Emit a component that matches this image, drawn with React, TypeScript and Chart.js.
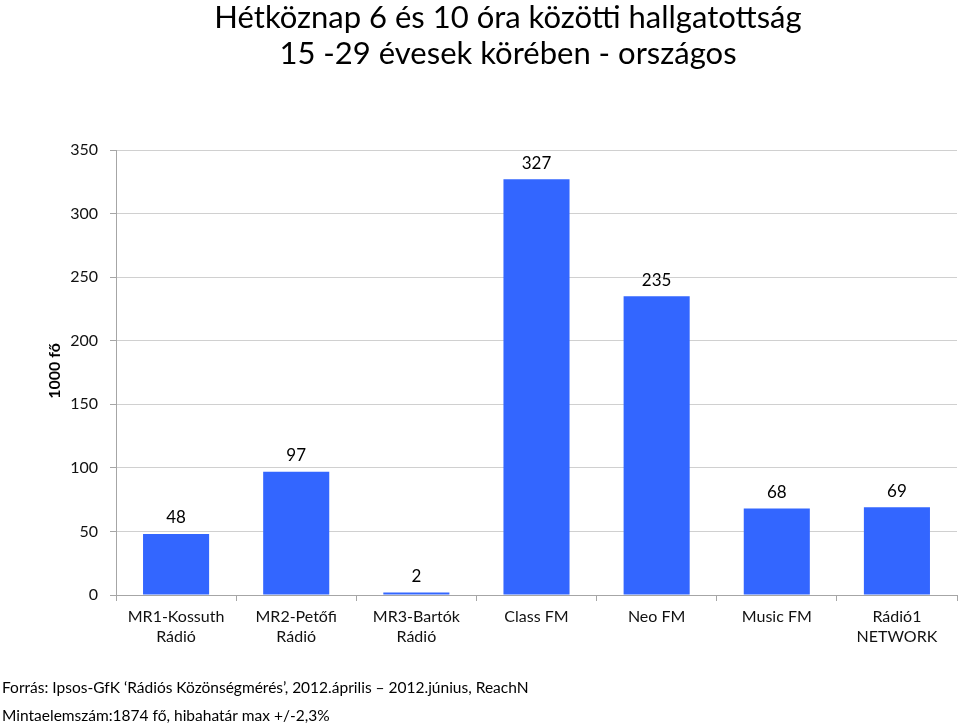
import React, { useEffect, useRef } from "react";
import { Chart, registerables } from "chart.js";

Chart.register(...registerables);

const titleLines = ["Hétköznap 6 és 10 óra közötti hallgatottság", "15 -29 évesek körében - országos"];
const categories: string[][] = [
  ["MR1-Kossuth", "Rádió"],
  ["MR2-Petőfi", "Rádió"],
  ["MR3-Bartók", "Rádió"],
  ["Class FM"],
  ["Neo FM"],
  ["Music FM"],
  ["Rádió1", "NETWORK"],
];
const values = [48, 97, 2, 327, 235, 68, 69];
const yAxisTitle = "1000 fő";
const yMin = 0;
const yMax = 350;
const yStep = 50;
const footnotes = [
  "Forrás: Ipsos-GfK ‘Rádiós Közönségmérés’, 2012.április – 2012.június, ReachN",
  "Mintaelemszám:1874 fő, hibahatár max +/-2,3%",
];

const FONT = "Lato, 'Open Sans', sans-serif";
const BAR_COLOR = "#3366ff";

const decorPlugin = {
  id: "decor",
  afterDatasetsDraw(chart: any) {
    const ctx = chart.ctx;
    ctx.save();
    ctx.fillStyle = "#000";
    // value labels
    ctx.font = `17px ${FONT}`;
    ctx.textAlign = "center";
    ctx.textBaseline = "middle";
    const meta = chart.getDatasetMeta(0);
    meta.data.forEach((bar: any, i: number) => {
      ctx.fillText(String(values[i]), bar.x, bar.y - 16);
    });
    // title
    ctx.font = `31px ${FONT}`;
    ctx.fillText(titleLines[0], 508, 18);
    ctx.fillText(titleLines[1], 508, 54);
    // y axis title
    ctx.save();
    ctx.translate(55, 371);
    ctx.rotate(-Math.PI / 2);
    ctx.font = `bold 16px ${FONT}`;
    ctx.fillText(yAxisTitle, 0, 0);
    ctx.restore();
    // footnotes
    ctx.textAlign = "left";
    ctx.font = `15.5px ${FONT}`;
    ctx.fillText(footnotes[0], 2, 688);
    ctx.fillText(footnotes[1], 2, 716);
    ctx.restore();
  },
};

export default function App() {
  const ref = useRef<HTMLCanvasElement | null>(null);
  useEffect(() => {
    if (!ref.current) return;
    const chart = new Chart(ref.current, {
      type: "bar",
      data: {
        labels: categories,
        datasets: [
          {
            data: values,
            backgroundColor: BAR_COLOR,
            borderWidth: 0,
            categoryPercentage: 1,
            barPercentage: 0.55,
          },
        ],
      },
      plugins: [decorPlugin],
      options: {
        animation: false,
        responsive: false,
        maintainAspectRatio: false,
        layout: { padding: { top: 150, right: 3, left: 0, bottom: 0 } },
        plugins: {
          legend: { display: false },
          title: { display: false },
          tooltip: { enabled: false },
        },
        scales: {
          x: {
            afterFit(scale: any) {
              scale.height = 131;
            },
            grid: {
              display: true,
              drawOnChartArea: false,
              drawTicks: true,
              tickLength: 6,
              color: "#a6a6a6",
              offset: true,
            },
            border: { display: true, color: "#a6a6a6", width: 1 },
            ticks: {
              color: "#111",
              font: { family: FONT, size: 16, lineHeight: 1.25 },
              padding: 6,
              maxRotation: 0,
              autoSkip: false,
            },
          },
          y: {
            min: yMin,
            max: yMax,
            afterFit(scale: any) {
              scale.width = 116;
            },
            grid: {
              color: "#d0d0d0",
              tickLength: 6,
              tickColor: "#a6a6a6",
            },
            border: { display: true, color: "#a6a6a6", width: 1 },
            ticks: {
              stepSize: yStep,
              color: "#111",
              font: { family: FONT, size: 16 },
              padding: 12,
            },
          },
        },
      },
    });
    return () => chart.destroy();
  }, []);
  return (
    <div style={{ position: "fixed", left: 0, top: 0, width: 960, height: 726, background: "#fff" }}>
      <canvas ref={ref} width={960} height={726} style={{ display: "block" }} />
    </div>
  );
}
